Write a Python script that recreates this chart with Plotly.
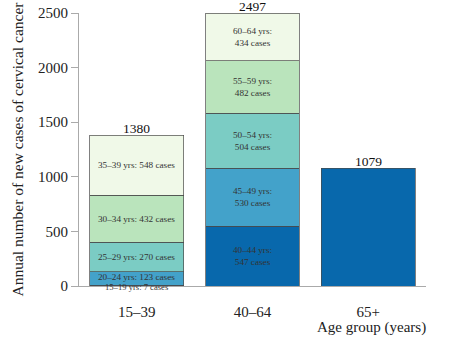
import plotly.graph_objects as go

categories = ["15\u201339", "40\u201364", "65+"]
young_bands = ["15\u201319", "20\u201324", "25\u201329", "30\u201334", "35\u201339"]
young_cases = [7, 123, 270, 432, 548]
mid_bands = ["40\u201344", "45\u201349", "50\u201354", "55\u201359", "60\u201364"]
mid_cases = [547, 530, 504, 482, 434]
old_cases = 1079
layer_colors = ["#0868ac", "#43a2ca", "#7bccc4", "#bae4bc", "#f0f9e8"]
old_color = "#0868ac"
yticks = [0, 500, 1000, 1500, 2000, 2500]

FONT = "Liberation Serif"
fig = go.Figure()
for i in range(5):
    fig.add_trace(go.Bar(
        x=[categories[0], categories[1]], y=[young_cases[i], mid_cases[i]],
        marker=dict(color=layer_colors[i], line=dict(color="#4a4a4a", width=0.7)),
        width=0.81, showlegend=False, hoverinfo="skip"))
fig.add_trace(go.Bar(
    x=[categories[2]], y=[old_cases],
    marker=dict(color=old_color, line=dict(color="#4a4a4a", width=0.7)),
    width=0.81, showlegend=False, hoverinfo="skip"))

ann = []
cum = 0
for b, c in zip(young_bands, young_cases):
    small = c < 50
    ann.append(dict(x=categories[0], y=cum if small else cum + c / 2, yanchor="middle",
                    yshift=-1 if small else (2 if c < 150 else 0),
                    text=f"{b} yrs: {c} cases", showarrow=False,
                    font=dict(family=FONT, size=8.6 if small else 9.2, color="#333333")))
    cum += c
ann.append(dict(x=categories[0], y=cum, yanchor="bottom", text=str(cum), showarrow=False,
                font=dict(family=FONT, size=13.5, color="#111111"), yshift=-3))
cum = 0
for b, c in zip(mid_bands, mid_cases):
    ann.append(dict(x=categories[1], y=cum + c / 2, text=f"{b} yrs:<br>{c} cases", showarrow=False,
                    font=dict(family=FONT, size=9.2, color="#333333")))
    cum += c
ann.append(dict(x=categories[1], y=cum, yanchor="bottom", text=str(cum), showarrow=False,
                font=dict(family=FONT, size=13.5, color="#111111"), yshift=-3))
ann.append(dict(x=categories[2], y=old_cases, yanchor="bottom", text=str(old_cases), showarrow=False,
                font=dict(family=FONT, size=13.5, color="#111111"), yshift=-3))
ann.append(dict(x=1.005, xref="paper", y=-0.115, yref="paper", xanchor="right", yanchor="top",
                text="Age group (years)", showarrow=False,
                font=dict(family=FONT, size=15, color="#222222")))

fig.update_layout(
    barmode="stack", bargap=0.19,
    width=449, height=341,
    margin=dict(l=79, r=23, t=13, b=55),
    plot_bgcolor="white", paper_bgcolor="white",
    font=dict(family=FONT, color="#222222"),
    annotations=ann,
    xaxis=dict(showline=True, linecolor="#aaaaaa", linewidth=1, ticks="", automargin=False,
               tickfont=dict(family=FONT, size=15, color="#222222"), ticklabelstandoff=12,
               showgrid=False, zeroline=False),
    yaxis=dict(range=[0, 2500], tickvals=yticks, showline=True, linecolor="#aaaaaa", linewidth=1,
               ticks="outside", ticklen=7, tickcolor="#aaaaaa", automargin=False,
               tickfont=dict(family=FONT, size=15, color="#222222"),
               showgrid=False, zeroline=False,
               title=dict(text="Annual number of new cases of cervical cancer",
                          font=dict(family=FONT, size=15.5, color="#222222"), standoff=10)),
)
fig.write_html("out.html")
